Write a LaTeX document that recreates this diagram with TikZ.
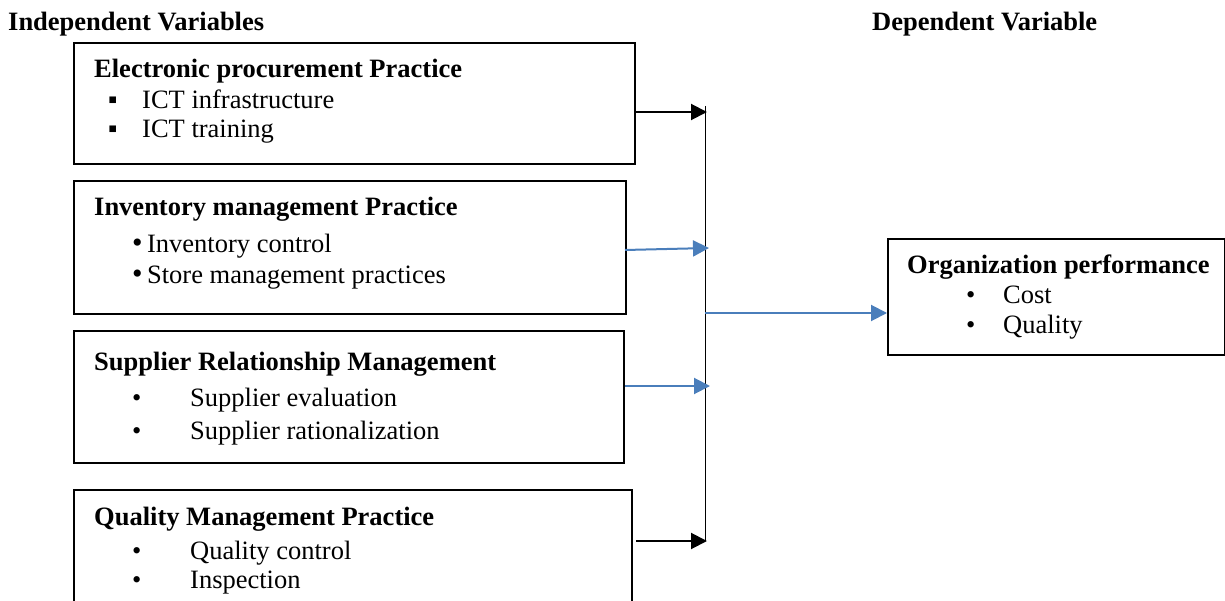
\documentclass[tikz,border=0pt]{standalone}
\usepackage{fontspec}
\setmainfont{Liberation Serif}
\usetikzlibrary{arrows.meta}
\definecolor{arrblue}{HTML}{4A7EBB}
\begin{document}
\begin{tikzpicture}[x=1pt,y=-1pt,
  box/.style={draw,line width=1.6pt,inner sep=0pt,anchor=north west},
  txt/.style={anchor=base west,inner sep=0pt,font=\fontsize{26.5}{30}\selectfont},
  ttl/.style={anchor=base west,inner sep=0pt,font=\fontsize{26.5}{30}\selectfont\bfseries},
  blk/.style={line width=2pt,-{Triangle[length=16pt,width=16pt]}},
  blu/.style={blk,draw=arrblue,fill=arrblue}]
\clip (0,0) rectangle (1225,601);
\fill[white] (0,0) rectangle (1225,601);
% headers
\node[ttl] (hi) at (8,31) {Independent Variables};
\node[ttl] (hd) at (872,31) {Dependent Variable};
% boxes
\node[box,minimum width=561pt,minimum height=121pt] (b1) at (73,42) {};
\node[box,minimum width=552pt,minimum height=133pt] (b2) at (73,180) {};
\node[box,minimum width=550pt,minimum height=132pt] (b3) at (73,330) {};
\node[box,minimum width=558pt,minimum height=140pt] (b4) at (73,489) {};
\node[box,minimum width=337pt,minimum height=116pt] (b5) at (887,238) {};
% box 1 text
\node[ttl] (t1) at (94,78) {Electronic procurement Practice};
\node[txt] (s1a) at (108,109) {▪};
\node[txt] (i1a) at (142,109) {ICT infrastructure};
\node[txt] (s1b) at (108,138) {▪};
\node[txt] (i1b) at (142,138) {ICT training};
% box 2 text
\node[ttl] (t2) at (94,216) {Inventory management Practice};
\node[txt] (i2a) at (132,253) {{\fontsize{30}{30}\selectfont •}\,Inventory control};
\node[txt] (i2b) at (132,284) {{\fontsize{30}{30}\selectfont •}\,Store management practices};
% box 3 text
\node[ttl] (t3) at (94,370) {Supplier Relationship Management};
\node[txt] (s3a) at (132,406) {•};
\node[txt] (i3a) at (190,406) {Supplier evaluation};
\node[txt] (s3b) at (132,439) {•};
\node[txt] (i3b) at (190,439) {Supplier rationalization};
% box 4 text
\node[ttl] (t4) at (94,525) {Quality Management Practice};
\node[txt] (s4a) at (132,559) {•};
\node[txt] (i4a) at (190,559) {Quality control};
\node[txt] (s4b) at (132,588) {•};
\node[txt] (i4b) at (190,588) {Inspection};
% box 5 text
\node[ttl] (t5) at (907,274) {Organization performance};
\node[txt] (s5a) at (966,304) {•};
\node[txt] (i5a) at (1003,304) {Cost};
\node[txt] (s5b) at (966,333) {•};
\node[txt] (i5b) at (1003,333) {Quality};
% connector points
\coordinate (vtop) at (705,106);
\coordinate (vbot) at (705,541);
\coordinate (a1s) at (636,112);
\coordinate (a1e) at (707,112);
\coordinate (a2s) at (625,250);
\coordinate (a2e) at (709,248);
\coordinate (a3s) at (625,386);
\coordinate (a3e) at (710,386);
\coordinate (a4s) at (636,541);
\coordinate (a4e) at (707,541);
\coordinate (a5s) at (705,313);
% connectors
\draw[line width=1pt] (vtop) -- (vbot);
\draw[blk] (a1s) -- (a1e);
\draw[blu] (a2s) -- (a2e);
\draw[blu] (a3s) -- (a3e);
\draw[blk] (a4s) -- (a4e);
\draw[blu] (a5s) -- (b5.west |- a5s);
\end{tikzpicture}
\end{document}
